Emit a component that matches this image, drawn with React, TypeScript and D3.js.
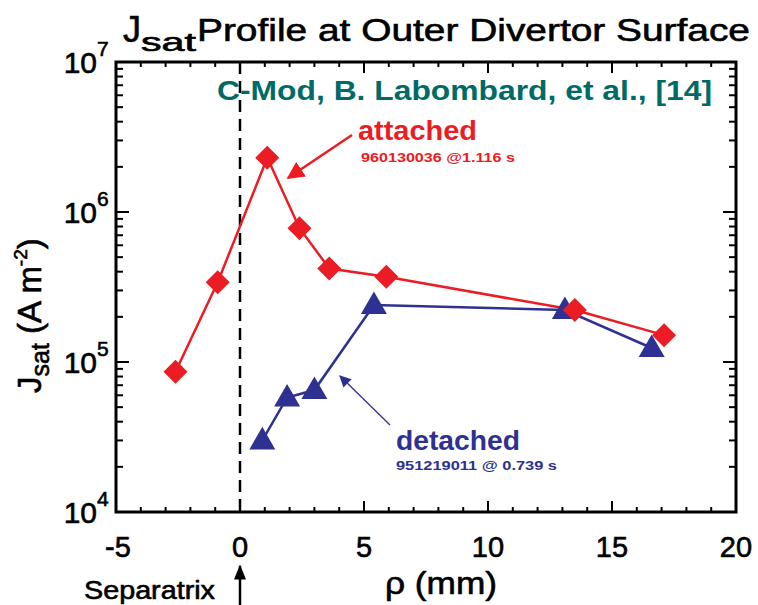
import React from "react";
import * as d3 from "d3";

const attachedX = [-2.6, -0.9, 1.1, 2.4, 3.6, 5.9, 13.5, 17.1];
const attachedY = [8.6e4, 3.4e5, 2.3e6, 7.8e5, 4.2e5, 3.7e5, 2.22e5, 1.51e5];
const detachedX = [0.9, 1.9, 3.0, 5.4, 13.1, 16.6];
const detachedY = [3.0e4, 5.8e4, 6.5e4, 2.4e5, 2.22e5, 1.24e5];
const xTicks = [-5, 0, 5, 10, 15, 20];
const yDecades = [4, 5, 6, 7];

const RED = "#ec1c24";
const BLUE = "#2e3192";
const TEAL = "#006b66";
const FONT = "'Liberation Sans', Arial, Helvetica, sans-serif";

export default function App() {
  const L = 116, R = 736, T = 62, B = 512;
  const x = d3.scaleLinear().domain([-5, 20]).range([L, R]);
  const y = d3.scaleLog().domain([1e4, 1e7]).range([B, T]);

  const line = d3.line<[number, number]>().x(d => x(d[0])).y(d => y(d[1]));
  const att: [number, number][] = attachedX.map((v, i) => [v, attachedY[i]]);
  const det: [number, number][] = detachedX.map((v, i) => [v, detachedY[i]]);

  const xMinor = d3.range(-5, 20.001, 1);
  const yMinor: number[] = [];
  for (let e = 4; e < 7; e++) for (let m = 1; m <= 9; m++) yMinor.push(m * Math.pow(10, e));
  yMinor.push(1e7);

  const diamond = (cx: number, cy: number, r: number) =>
    `M${cx},${cy - r}L${cx + r},${cy}L${cx},${cy + r}L${cx - r},${cy}Z`;
  const tri = (cx: number, cy: number, s: number) => {
    const h = s * 0.87;
    return `M${cx},${cy - h * 0.6}L${cx + s / 2},${cy + h * 0.4}L${cx - s / 2},${cy + h * 0.4}Z`;
  };

  const thick = { stroke: "#000", strokeWidth: 0.6 } as const;

  return (
    <svg width={758} height={605} style={{ position: "absolute", left: 0, top: 0, background: "#fff" }} fontFamily={FONT}>
      <defs>
        <marker id="ahRed" viewBox="0 0 10 10" refX="9" refY="5" markerWidth="7" markerHeight="7" orient="auto" markerUnits="strokeWidth">
          <path d="M0,0L10,5L0,10Z" fill={RED} />
        </marker>
        <marker id="ahBlue" viewBox="0 0 10 10" refX="9" refY="5" markerWidth="12" markerHeight="9" orient="auto" markerUnits="strokeWidth">
          <path d="M0,0L10,5L0,10Z" fill={BLUE} />
        </marker>
        <marker id="ahBlack" viewBox="0 0 10 10" refX="9" refY="5" markerWidth="7" markerHeight="6" orient="auto" markerUnits="strokeWidth">
          <path d="M0,1L10,5L0,9Z" fill="#000" />
        </marker>
      </defs>

      {/* Title */}
      <text x={123} y={42} fontSize={36} fill="#000" {...thick}>J</text>
      <text x={141} y={51} fontSize={25} fill="#000" textLength={55} lengthAdjust="spacingAndGlyphs" {...thick}>sat</text>
      <text x={197} y={41} fontSize={31} fill="#000" textLength={553} lengthAdjust="spacingAndGlyphs" {...thick}>Profile at Outer Divertor Surface</text>

      {/* dashed separatrix */}
      <line x1={x(0)} x2={x(0)} y1={T} y2={B} stroke="#000" strokeWidth={2.5} strokeDasharray="12,7" />

      {/* ticks x */}
      {xMinor.map(v => {
        const major = xTicks.includes(v);
        const len = major ? 11 : 5;
        return (
          <g key={"xt" + v}>
            <line x1={x(v)} x2={x(v)} y1={B} y2={B - len} stroke="#000" strokeWidth={2} />
            <line x1={x(v)} x2={x(v)} y1={T} y2={T + len} stroke="#000" strokeWidth={2} />
          </g>
        );
      })}
      {/* ticks y */}
      {yMinor.map((v, i) => {
        const major = Math.abs(Math.log10(v) - Math.round(Math.log10(v))) < 1e-9;
        const len = major ? 13 : 7;
        return (
          <g key={"yt" + i}>
            <line x1={L} x2={L + len} y1={y(v)} y2={y(v)} stroke="#000" strokeWidth={2} />
            <line x1={R} x2={R - len} y1={y(v)} y2={y(v)} stroke="#000" strokeWidth={2} />
          </g>
        );
      })}

      {/* frame */}
      <rect x={L} y={T} width={R - L} height={B - T} fill="none" stroke="#000" strokeWidth={3} />

      {/* x tick labels */}
      {xTicks.map(v => (
        <text key={"xl" + v} x={x(v) + (v < 0 ? 2 : 0)} y={557} fontSize={29} textAnchor="middle" fill="#000" {...thick}>{v < 0 ? "-" + Math.abs(v) : v}</text>
      ))}
      {/* y tick labels */}
      {yDecades.map(e => (
        <g key={"yl" + e}>
          <text x={97} y={y(Math.pow(10, e)) + 11} fontSize={30} textAnchor="end" fill="#000" {...thick}>10</text>
          <text x={97} y={y(Math.pow(10, e)) - 6} fontSize={21} textAnchor="start" fill="#000" {...thick}>{e}</text>
        </g>
      ))}

      {/* axis titles */}
      <text transform="translate(41,393) rotate(-90)" fontSize={33} fill="#000" {...thick}>
        <tspan>J</tspan>
        <tspan fontSize={25} dy={8}>sat</tspan>
        <tspan dy={-8}> (A m</tspan>
        <tspan fontSize={19} dy={-14}>-2</tspan>
        <tspan dy={14}>)</tspan>
      </text>
      <text x={385} y={594} fontSize={31} fill="#000" textLength={112} lengthAdjust="spacingAndGlyphs" {...thick}>ρ (mm)</text>
      <text x={84} y={599} fontSize={25} fill="#000" textLength={131} lengthAdjust="spacingAndGlyphs" {...thick}>Separatrix</text>
      <line x1={x(0)} x2={x(0)} y1={605} y2={566} stroke="#000" strokeWidth={2.5} markerEnd="url(#ahBlack)" />

      {/* data lines */}
      <path d={line(det) || ""} fill="none" stroke={BLUE} strokeWidth={2.5} />
      <path d={line(att) || ""} fill="none" stroke={RED} strokeWidth={2.5} />
      {det.map((d, i) => (
        <path key={"dt" + i} d={tri(x(d[0]), y(d[1]), 26)} fill={BLUE} />
      ))}
      {att.map((d, i) => (
        <path key={"at" + i} d={diamond(x(d[0]), y(d[1]), 12)} fill={RED} />
      ))}

      {/* annotations */}
      <text x={217} y={100} fontSize={27} fontWeight="bold" fill={TEAL} textLength={495} lengthAdjust="spacingAndGlyphs">C-Mod, B. Labombard, et al., [14]</text>
      <text x={358} y={140} fontSize={27} fontWeight="bold" fill={RED} textLength={119} lengthAdjust="spacingAndGlyphs">attached</text>
      <text x={361} y={162} fontSize={13} fontWeight="bold" fill={RED} textLength={154} lengthAdjust="spacingAndGlyphs">960130036 @1.116 s</text>
      <line x1={352} x2={288} y1={135} y2={178} stroke={RED} strokeWidth={2.5} markerEnd="url(#ahRed)" />

      <text x={396} y={450} fontSize={27} fontWeight="bold" fill={BLUE} textLength={124} lengthAdjust="spacingAndGlyphs">detached</text>
      <text x={396} y={470} fontSize={13} fontWeight="bold" fill={BLUE} textLength={161} lengthAdjust="spacingAndGlyphs">951219011 @ 0.739 s</text>
      <line x1={390} x2={340} y1={425} y2={376} stroke={BLUE} strokeWidth={1.3} markerEnd="url(#ahBlue)" />
    </svg>
  );
}
